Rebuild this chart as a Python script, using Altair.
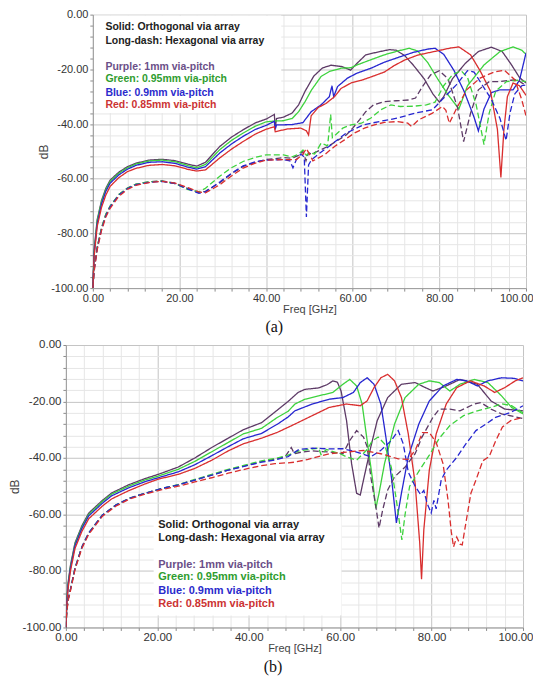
import altair as alt
import pandas as pd

# ---------------- Panel (a) data ----------------
A_LOW_F = [0, 0.3, 1, 2, 3, 4, 6, 8, 10, 13, 16, 19, 22, 24, 26, 29.3, 32, 34.7, 37.5, 40]
A_LOW_FD = [0, 0.3, 1, 2, 3, 4, 6, 8, 10, 13, 16, 19, 22, 24.5, 26, 29.3, 32, 34.7, 37.5, 40]

A_PURPLE_SOLID_F = A_LOW_F + [41.9, 42.1, 42.4, 44, 46, 47.5, 49, 51, 53, 55, 57.5, 59.5, 61, 63, 66, 68.5, 70, 72, 74, 76.5, 78.5, 80, 81, 83, 86, 89, 92, 94.5, 96.5, 98.5, 100]
A_PURPLE_SOLID_DB = [-100, -86, -75, -68, -63.5, -60.5, -57.6, -55.6, -54.3, -53.2, -52.9, -53.4, -54.7, -55.4, -54, -48.2, -44.8, -42.1, -39.6, -38.2,
                     -36.5, -41.5, -38, -37.5, -36, -33, -28, -22.5, -19.5, -18.5, -19, -20.3, -17.8, -14.7, -13.6, -12.8, -13, -15, -18.5, -23.5,
                     -29, -32, -30, -23.5, -17.8, -13.5, -11.9, -13.5, -18, -23, -25]

A_GREEN_SOLID_F = A_LOW_F + [42, 44, 46, 47.5, 49, 50.5, 52.7, 54.6, 57.3, 59.6, 61, 64, 67.3, 70.4, 73, 75, 77.3, 79.6, 82, 84.5, 86.5, 90.3, 94, 97, 99, 100]
A_GREEN_SOLID_DB = [-100, -87, -75.5, -68.5, -64, -61, -58, -56, -54.6, -53.5, -53.2, -53.8, -55.2, -56, -54.8, -49.4, -46, -43.3, -40.8, -39.2,
                    -38.9, -38.8, -38, -35.5, -31.8, -27.5, -22.6, -20.8, -19.6, -19.4, -18.4, -16.6, -14.7, -13.3, -12.3, -13.3, -17.5, -23.5, -29.3, -34.5,
                    -26, -18.4, -13.5, -11.8, -13, -14.5]

A_BLUE_SOLID_F = A_LOW_F + [41.9, 42.1, 42.4, 44, 46, 48.5, 50.4, 52.7, 54.6, 55.2, 55.6, 56.5, 58.8, 61, 64.2, 67.3, 70.4, 74, 77.3, 79, 81, 83.4, 85.7, 88, 89, 90.3, 92, 94, 97, 98.5, 100]
A_BLUE_SOLID_DB = [-100, -87.5, -76.5, -69.3, -64.6, -61.6, -58.6, -56.5, -55.1, -54, -53.8, -54.4, -55.8, -56.5, -55.6, -50.6, -47.3, -44.5, -42, -40.5,
                   -39, -42, -40.3, -40.3, -40.2, -39.5, -35.5, -33, -30, -26, -30, -26.3, -23.2, -21.4, -19.6, -17.4, -15.7, -13.8, -12.6, -12.3,
                   -14.5, -20.5, -28, -37.5, -42.5, -34.5, -28.5, -27.5, -27.5, -24, -14]

A_RED_SOLID_F = A_LOW_F + [41.9, 42.1, 45, 48, 49.3, 49.8, 50.4, 52, 53.8, 55.8, 57.3, 59.6, 62, 64.2, 67.3, 69.6, 72, 75, 78.8, 82.6, 84.5, 87.2, 89.5, 91.8, 93.4, 94.2, 94.9, 95.7, 97, 98.5, 100]
A_RED_SOLID_DB = [-100, -88.5, -77.5, -70.5, -66, -62.8, -59.6, -57.4, -56.2, -55.1, -54.8, -55.3, -56.6, -57.2, -56.8, -52.4, -49.2, -46.4, -43.7, -41.9,
                  -41, -42.8, -41.8, -41.5, -42.5, -44, -37, -34, -32.5, -30, -27, -25, -24, -22.8, -21, -18.6, -16.6, -14.8, -13.5, -12.2,
                  -11.8, -14.7, -20.8, -28, -42, -59.5, -42, -30, -25, -26, -29.5]

A_PURPLE_DASH_F = A_LOW_FD + [44, 46, 47.5, 48.5, 49.2, 49.8, 50.5, 52.5, 54.5, 56.5, 58.5, 60, 61.6, 63, 64.8, 67.2, 70, 73, 74.5, 76, 78, 80, 82, 84.2, 85.6, 87.2, 89, 91.5, 94, 96.5, 98, 100]
A_PURPLE_DASH_DB = [-100, -93, -85, -78, -73, -70, -65.8, -63.4, -62, -61.1, -60.8, -61.6, -63.6, -65, -64.6, -61.5, -58.2, -55.5, -54, -53,
                    -52.3, -52.5, -51.5, -50, -53.5, -50.5, -51, -49.5, -48, -46, -44, -41.5, -38.4, -35.5, -33, -31.8, -31.5, -31.2, -30.5, -26.5,
                    -22, -20.5, -23.5, -34, -46.4, -36, -27.5, -24.5, -24.5, -24, -23.8, -26]

A_GREEN_DASH_F = A_LOW_FD + [44, 46, 47.5, 48.5, 49.3, 50, 51.2, 52.7, 54.2, 54.9, 55.3, 56, 57.7, 59.6, 62, 64.2, 66.5, 68.8, 71, 74, 77, 79, 81, 83, 85, 86.5, 88.5, 90.3, 91.5, 93, 95.5, 98, 100]
A_GREEN_DASH_DB = [-100, -93, -85, -78, -73, -70, -65.8, -63.4, -62, -61.1, -60.9, -61.8, -64, -64.8, -63.5, -59.1, -56, -53.7, -52.2, -51.3,
                   -51.3, -52, -51, -49.5, -51.5, -50.5, -51, -47, -48, -36.5, -45, -44, -41.5, -40.3, -39.7, -37.8, -34.8, -33, -33.6, -33.5,
                   -33, -32, -26, -22, -20.5, -23, -33, -47.5, -36, -28, -24.5, -24, -24.5]

A_BLUE_DASH_F = A_LOW_FD + [44, 45.5, 46.2, 47, 48, 48.8, 49.3, 49.8, 50.5, 52.5, 54.5, 58.5, 62.5, 66.4, 70.4, 74.4, 78.4, 80.7, 83.9, 86.5, 88, 90, 92, 94, 95.4, 96.3, 97.4, 99, 100]
A_BLUE_DASH_DB = [-100, -93.5, -85.5, -78.5, -73.5, -70.3, -66, -63.6, -62.2, -61.3, -61, -61.8, -63.8, -65.3, -64.8, -61.2, -58, -55.3, -53.8, -53.2,
                  -53, -53.5, -56, -53, -51, -52, -74, -55, -53, -50.5, -48.2, -43.3, -40.3, -39, -37.8, -36, -34.8, -31, -25.7, -20.5,
                  -21, -26, -31, -38, -46, -36, -29, -26, -25.7]

A_RED_DASH_F = A_LOW_FD + [44, 47, 48.5, 49.3, 50, 50.8, 53.5, 55.8, 58.1, 60.4, 62.7, 65, 67.3, 70.4, 72.7, 73.6, 75.2, 78.4, 80.7, 81.5, 82.3, 83.9, 86.3, 89.4, 92.6, 95, 97.4, 99, 100]
A_RED_DASH_DB = [-100, -94, -86, -79, -74, -70.8, -66.4, -63.9, -62.4, -61.4, -61, -61.6, -63.3, -64.8, -65.2, -62.2, -59, -56.1, -54.3, -53.2,
                 -53, -53, -51, -49, -51, -53.5, -51.2, -48.2, -45.8, -43.3, -41.5, -40.3, -39.4, -39.1, -39.7, -40.9, -38.5, -36, -33.6, -35,
                 -39.7, -34.5, -27.5, -23.2, -21, -20.3, -23.8, -31, -37]

# ---------------- Panel (b) data ----------------
B_LOW_F = [0, 0.2, 0.5, 1, 2, 3.5, 5, 8, 10, 13.7, 17.3, 20.2, 24.6, 28.2, 31.9, 35.5, 38.8, 42.8, 46.3]
B_LOW_FD = [0, 0.2, 0.5, 1, 2, 3.5, 5, 8, 11, 14, 17.3, 21, 24.6, 28.2, 31.9, 35.5, 39.9, 42.8, 45.7]

B_PURPLE_SOLID_F = B_LOW_F + [48.6, 50.8, 52.3, 55.3, 57.2, 58.4, 59.4, 60.2, 61.4, 62.5, 63.6, 64.4, 65.1, 66.7, 68.1, 70.4, 73.4, 76.4, 78.5, 80.3, 83.2, 86.2, 90, 93, 96, 100]
B_PURPLE_SOLID_DB = [-100, -90, -84, -78, -70, -64, -59.5, -55, -52.4, -49.5, -47.3, -45.8, -43.2, -40, -36.3, -33, -30, -27.5, -23,
                     -20, -16.8, -15.7, -15.2, -14, -12.7, -13.2, -16.3, -26.8, -42, -52.5, -53.1, -47.8, -36.1, -26.8, -18.6, -13.9, -13.3, -15, -16.3,
                     -14.5, -12.2, -13.9, -19.8, -22.7, -23.3]

B_GREEN_SOLID_F = B_LOW_F + [48.6, 50.1, 52.3, 55.3, 58.4, 60.6, 62.1, 63.6, 64.8, 65.9, 67.1, 67.8, 68.5, 69.7, 71.9, 74.2, 77.2, 79.5, 81.7, 84, 86.2, 89.3, 92.3, 95.3, 97.5, 100]
B_GREEN_SOLID_DB = [-100, -90.5, -84.5, -78.5, -70.5, -64.5, -60, -55.4, -52.8, -50, -47.8, -46.4, -44, -41.2, -37.8, -34.5, -31.5, -29.5, -25.6,
                    -23.5, -20.9, -19.2, -18, -16.8, -13.9, -12.2, -14.5, -20.9, -33.8, -47.8, -57.8, -52.5, -42, -28, -18.6, -13.9, -12.7, -13.3, -16.3,
                    -13.9, -12.2, -13.3, -18, -22.1, -24.4]

B_BLUE_SOLID_F = B_LOW_F + [48.6, 50.1, 53.9, 57.6, 60.6, 62.9, 64.4, 65.9, 67.4, 68.9, 70, 71.2, 72.3, 73.4, 74.9, 77.2, 79.5, 82.5, 85.5, 87.7, 90, 92.3, 95.3, 98, 100]
B_BLUE_SOLID_DB = [-100, -91, -85, -79, -71, -65, -60.5, -56, -53.4, -50.6, -48.4, -47, -44.9, -42.4, -39.2, -36, -33.2, -31.3, -28,
                   -25.5, -23.3, -20.9, -19.2, -18.6, -16.8, -13.3, -11.6, -13.9, -20.9, -32.6, -46.7, -63, -52.5, -39.6, -28, -19.8, -14.5, -12.2, -12.7,
                   -14.5, -12.7, -11.6, -11.8, -12.7]

B_RED_SOLID_F = B_LOW_F + [50.1, 53.9, 57.6, 61.4, 64.4, 65.9, 67.4, 68.9, 70.4, 71.9, 73.4, 74.9, 76.4, 77.4, 77.8, 78.3, 79.5, 81, 83.2, 85.5, 88.5, 91.5, 93.8, 96, 98.3, 100]
B_RED_SOLID_DB = [-100, -92, -86, -80, -72, -66, -61.5, -57, -54.5, -51.6, -49.2, -47.5, -45.8, -43.7, -40.8, -37.5, -35, -33, -30.9,
                  -28, -25, -22.1, -20.9, -21.5, -19.8, -15.1, -11.6, -10.4, -12.7, -18.6, -31.5, -49, -70, -82.9, -65.4, -44.3, -31.5, -20.9, -15.1,
                  -12.7, -14.5, -16.8, -15.1, -12.7, -11.6]

B_PURPLE_DASH_F = B_LOW_FD + [48, 49.3, 50, 51.6, 53.9, 57.6, 60.6, 62.1, 63.6, 65.1, 65.9, 66.7, 67.8, 68.5, 69.3, 70.4, 71.9, 74.2, 76.4, 77.9, 80.3, 81.7, 84, 86.2, 89.3, 90.8, 93, 95.3, 100]
B_PURPLE_DASH_DB = [-100, -94, -90, -86.5, -79, -71.5, -66.5, -60.2, -56.6, -54.2, -52.5, -50.8, -49.5, -47.8, -46.1, -44.3, -42.5, -41.3, -40.5,
                    -39.5, -36.3, -38.5, -37.9, -37.5, -37.9, -38.5, -33.8, -30.3, -32.6, -36, -46.7, -57.2, -64.8, -58.4, -51.3, -46.7, -43.2, -38.5, -32.6,
                    -25.6, -22.7, -22.7, -23.3, -20.9, -20.4, -22.7, -24.4, -26]

B_GREEN_DASH_F = B_LOW_FD + [48.6, 51, 53, 55.3, 55.8, 57, 60, 61.4, 63.6, 65.9, 67, 68.3, 69.7, 71.2, 72.3, 73.5, 74.2, 75.2, 77.3, 79.5, 81.7, 84, 87, 90, 93, 95.3, 97.5, 100]
B_GREEN_DASH_DB = [-100, -94, -90, -86.5, -79, -71.5, -66.5, -60.2, -56.6, -54.2, -52.5, -50.8, -49.4, -47.6, -45.8, -44, -42.2, -41, -40.2,
                   -39, -37.5, -37, -36.5, -38.8, -37, -38.5, -39.6, -40.8, -37, -34, -32.6, -35, -43.4, -55, -69, -60, -50, -44.5, -39,
                   -33, -28.5, -25, -23.3, -22.1, -20.8, -21.5, -24]

B_BLUE_DASH_F = B_LOW_FD + [48.6, 51, 54, 57.6, 60.6, 63.6, 66.7, 68.9, 71.2, 72.7, 73.8, 74.9, 76.4, 77.6, 78.3, 79, 79.9, 80.5, 81, 82.1, 83.2, 85.4, 87.5, 89.7, 91.9, 94, 97.3, 100]
B_BLUE_DASH_DB = [-100, -94, -90, -86.5, -79, -71.5, -66.5, -60.2, -56.6, -54.2, -52.5, -50.8, -49.5, -47.8, -46.1, -44.3, -42.6, -41.5, -40.7,
                  -39.5, -37, -36.5, -36.8, -36.7, -37.9, -39.6, -37.3, -33.8, -30.3, -35, -45, -50, -53, -51.5, -56, -59.5, -55, -58, -47.8,
                  -44.3, -40, -35, -30.3, -28, -25.6, -23.9, -21.5]

B_RED_DASH_F = B_LOW_FD + [48.6, 50, 53, 57.6, 61.4, 65.1, 68.9, 72.7, 74.9, 76.5, 78, 79.5, 81, 82.5, 83.6, 84.3, 84.8, 85.5, 86.2, 86.7, 87.5, 88.6, 89.7, 91.2, 92.6, 94, 95.5, 97.3, 100]
B_RED_DASH_DB = [-100, -94.5, -90.5, -87, -79.5, -72, -67, -60.6, -57, -54.5, -52.8, -51.2, -50, -48.5, -47, -45.4, -43.7, -42.7, -42,
                 -41.7, -41.5, -40.5, -38.5, -37.9, -37.3, -38.5, -40.3, -40.5, -37, -31, -31, -34.5, -42, -55, -66, -71.5, -68, -70.5, -70.8,
                 -63, -52.5, -47.8, -41, -39.5, -34, -29, -26.8, -25.6]

# ---------------- Annotation text ----------------
NOTE_LINES = ["Solid: Orthogonal via array", "Long-dash: Hexagonal via array",
              "Purple: 1mm via-pitch", "Green: 0.95mm via-pitch",
              "Blue: 0.9mm via-pitch", "Red: 0.85mm via-pitch"]
NOTE_COLORS = ["#222222", "#222222", "#6b4f88", "#2f9d2f", "#2b2bcc", "#cc3333"]
A_NOTE_F = [2.9, 2.9, 2.9, 2.9, 2.9, 2.9]
A_NOTE_DB = [-4.6, -9.6, -19.0, -23.6, -28.5, -33.1]
B_NOTE_F = [20.2, 20.2, 20.2, 20.2, 20.2, 20.2]
B_NOTE_DB = [-63.6, -68.3, -77.8, -82.3, -87.1, -91.8]
A_BOX = [0.3, 43.5, -0.3, -36.0]
B_BOX = [19.2, 60.3, -60.7, -95.8]

SERIES_COLORS = ["Purple", "Green", "Blue", "Red"]
LINE_COLORS = ["#5d3a66", "#3dd23d", "#2626d0", "#d92e2e"]
STYLES = ["Solid", "Dash"]


def rows(panel, col, style, f, db):
    assert len(f) == len(db), (panel, col, style, len(f), len(db))
    return [dict(panel=panel, col=col, style=style, key=col + style, f=x, db=y, i=k)
            for k, (x, y) in enumerate(zip(f, db))]


a_rows = (rows("a", "Purple", "Solid", A_PURPLE_SOLID_F, A_PURPLE_SOLID_DB)
          + rows("a", "Green", "Solid", A_GREEN_SOLID_F, A_GREEN_SOLID_DB)
          + rows("a", "Blue", "Solid", A_BLUE_SOLID_F, A_BLUE_SOLID_DB)
          + rows("a", "Red", "Solid", A_RED_SOLID_F, A_RED_SOLID_DB)
          + rows("a", "Purple", "Dash", A_PURPLE_DASH_F, A_PURPLE_DASH_DB)
          + rows("a", "Green", "Dash", A_GREEN_DASH_F, A_GREEN_DASH_DB)
          + rows("a", "Blue", "Dash", A_BLUE_DASH_F, A_BLUE_DASH_DB)
          + rows("a", "Red", "Dash", A_RED_DASH_F, A_RED_DASH_DB))
b_rows = (rows("b", "Purple", "Solid", B_PURPLE_SOLID_F, B_PURPLE_SOLID_DB)
          + rows("b", "Green", "Solid", B_GREEN_SOLID_F, B_GREEN_SOLID_DB)
          + rows("b", "Blue", "Solid", B_BLUE_SOLID_F, B_BLUE_SOLID_DB)
          + rows("b", "Red", "Solid", B_RED_SOLID_F, B_RED_SOLID_DB)
          + rows("b", "Purple", "Dash", B_PURPLE_DASH_F, B_PURPLE_DASH_DB)
          + rows("b", "Green", "Dash", B_GREEN_DASH_F, B_GREEN_DASH_DB)
          + rows("b", "Blue", "Dash", B_BLUE_DASH_F, B_BLUE_DASH_DB)
          + rows("b", "Red", "Dash", B_RED_DASH_F, B_RED_DASH_DB))

MINUS = "\u2212"
LBL = "datum.value % 20 == 0 ? replace(format(datum.value, '.2f'), '" + MINUS + "', '-') : ''"
GRID_COLOR = {"condition": {"test": "datum.value % 20 == 0", "value": "#c4c4c4"}, "value": "#e6e6e6"}
X_VALUES = list(range(0, 101, 4))
Y_VALUES = list(range(-100, 1, 4))


def panel(data_rows, note_f, note_db, box, width, x_start, height, label_fs, note_fs, last_off, cap_dx, caption):
    df = pd.DataFrame(data_rows)
    xaxis = alt.Axis(values=X_VALUES, labelExpr=LBL, title="Freq [GHz]", grid=True, gridColor=GRID_COLOR,
                     tickSize=3, labelPadding=1, labelFontSize=label_fs, titleFontSize=11, titlePadding=0,
                     labelFlush=False, labelOverlap=False,
                     labelAlign={"condition": {"test": "datum.value == 100", "value": "right"}, "value": "center"},
                     labelOffset={"condition": {"test": "datum.value == 100", "value": last_off}, "value": 0})
    yaxis = alt.Axis(values=Y_VALUES, labelExpr=LBL, title="dB", grid=True, gridColor=GRID_COLOR,
                     tickSize=3, labelPadding=2, labelFontSize=label_fs, titleFontSize=12, titlePadding=0,
                     labelOverlap=False, offset=-x_start)
    xs = alt.Scale(domain=[0, 100], nice=False, zero=False, range=[x_start, width])
    ys = alt.Scale(domain=[-100, 0], nice=False, zero=False)

    box_df = pd.DataFrame({"x1": [box[0]], "x2": [box[1]], "y1": [box[2]], "y2": [box[3]]})
    bg = alt.Chart(box_df).mark_rect(color="white").encode(
        x=alt.X("x1:Q", scale=xs, axis=xaxis), x2="x2:Q",
        y=alt.Y("y1:Q", scale=ys, axis=yaxis), y2="y2:Q")

    lines = alt.Chart(df).mark_line(strokeWidth=1.3, clip=True).encode(
        x=alt.X("f:Q", scale=xs, axis=xaxis),
        y=alt.Y("db:Q", scale=ys, axis=yaxis),
        color=alt.Color("col:N", scale=alt.Scale(domain=SERIES_COLORS, range=LINE_COLORS), legend=None),
        strokeDash=alt.StrokeDash("style:N", scale=alt.Scale(domain=STYLES, range=[[1, 0], [6, 3]]), legend=None),
        detail="key:N",
        order="i:Q")

    note_df = pd.DataFrame({"t": NOTE_LINES, "c": NOTE_COLORS, "f": note_f, "db": note_db})
    notes = alt.Chart(note_df).mark_text(align="left", baseline="middle", font="Liberation Sans",
                                         fontWeight="bold", fontSize=note_fs).encode(
        x=alt.X("f:Q", scale=xs, axis=xaxis),
        y=alt.Y("db:Q", scale=ys, axis=yaxis),
        text="t:N",
        color=alt.Color("c:N", scale=None))

    return alt.layer(bg, lines, notes).properties(
        width=width, height=height,
        title=alt.TitleParams(caption, orient="bottom", anchor="middle", frame="bounds",
                              font="Liberation Serif", fontSize=16, fontWeight="normal",
                              color="#111111", offset=5, dx=cap_dx))


pa = panel(a_rows, A_NOTE_F, A_NOTE_DB, A_BOX, 461, 27, 274, 11, 10.5, 7, -11, "(a)")
pb = panel(b_rows, B_NOTE_F, B_NOTE_DB, B_BOX, 458, 0, 283, 11.5, 11, 10, 2, "(b)")

chart = alt.vconcat(pa, pb, spacing=4, padding=0).configure_view(
    strokeWidth=0
).configure_axis(
    domainColor="#9d9d9d", tickColor="#8c8c8c", labelFont="Liberation Sans", titleFont="Liberation Sans",
    labelColor="#333333", titleColor="#444444", titleFontWeight="normal", gridWidth=1
)

chart.save("out.html", embed_options={"renderer": "svg", "actions": False})
